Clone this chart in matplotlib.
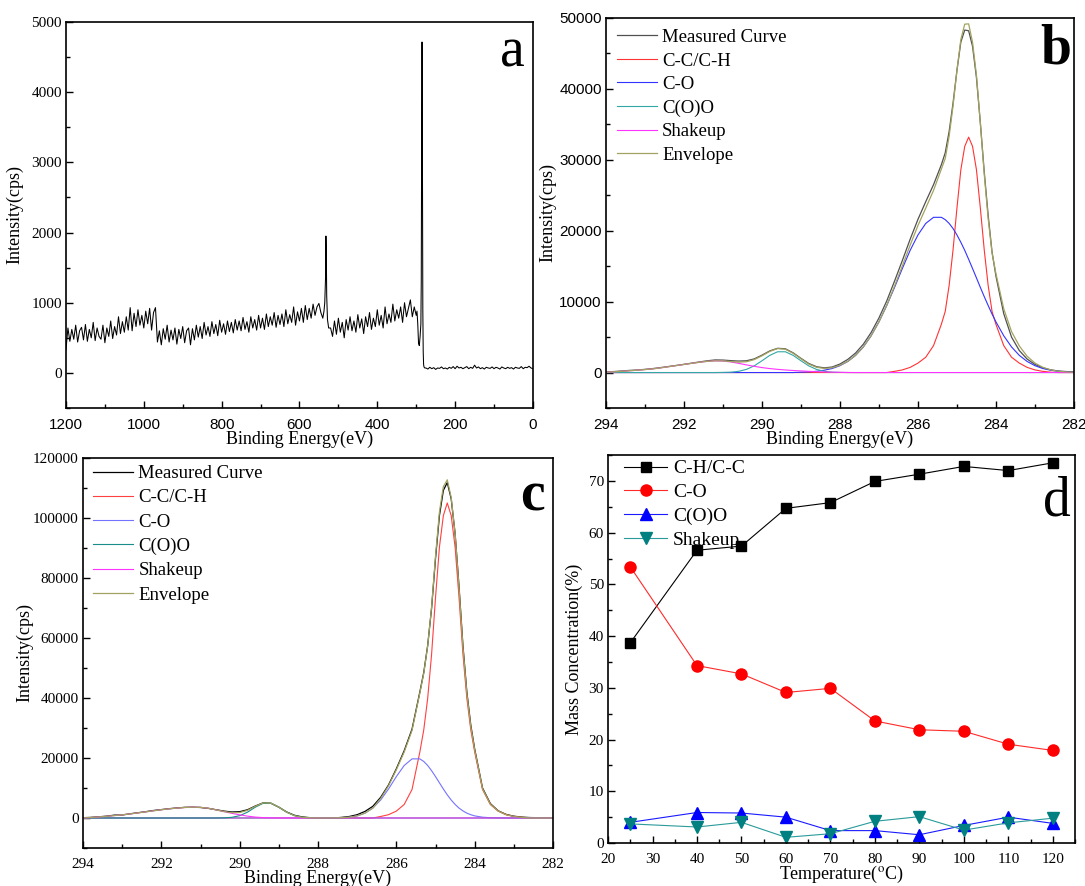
import numpy as np
import matplotlib.pyplot as plt
from matplotlib.ticker import MultipleLocator

SERIF = 'Liberation Serif'
SANS = 'Liberation Sans'
plt.rcParams['font.family'] = SERIF
plt.rcParams['mathtext.fontset'] = 'stix'

# %% data

# (a) survey spectrum, cps
be_a1 = np.arange(1200, 535, -5)
int_a1 = [330, 640, 450, 620, 480, 680, 440, 600, 650, 470,
          690, 450, 620, 500, 720, 460, 640, 520, 480, 680,
          430, 640, 520, 740, 490, 660, 540, 800, 560, 730,
          580, 800, 610, 930, 600, 850, 660, 900, 680, 820,
          640, 880, 700, 920, 610, 860, 930, 440, 600, 400,
          630, 480, 680, 440, 610, 470, 640, 410, 620, 490,
          660, 430, 600, 640, 400, 630, 470, 680, 510, 660,
          490, 720, 540, 660, 520, 730, 560, 690, 530, 750,
          580, 700, 550, 740, 590, 720, 570, 760, 610, 740,
          600, 790, 620, 730, 580, 800, 640, 760, 610, 820,
          640, 780, 620, 840, 660, 800, 680, 860, 650, 820,
          690, 840, 660, 900, 700, 830, 720, 940, 680, 870,
          740, 920, 720, 960, 760, 920, 780, 980, 820, 940,
          990, 860, 780]
be_o1s = [537, 535, 533, 532, 531, 530, 528, 525]
int_o1s = [880, 1000, 1350, 1950, 1680, 1100, 760, 640]
be_a2 = np.arange(520, 295, -5)
int_a2 = [640, 520, 740, 550, 780, 580, 720, 500, 760, 610,
          800, 600, 740, 580, 830, 640, 770, 560, 800, 660,
          860, 620, 780, 660, 900, 680, 820, 640, 940, 700,
          840, 720, 980, 740, 900, 780, 940, 720, 1000, 800,
          920, 1040, 800, 940, 820]
be_c1s = [298, 296, 294, 292, 290, 288, 287, 286, 285, 284.5, 284, 283, 282, 281, 280, 278]
int_c1s = [880, 700, 420, 390, 520, 700, 1300, 3400, 4714, 4080, 3000, 900, 300, 120, 85, 70]
be_a3 = np.arange(275, -1, -5)
int_a3 = [70, 55, 80, 60, 75, 50, 70, 65, 85, 60,
          70, 55, 80, 65, 90, 60, 95, 70, 80, 60,
          75, 90, 60, 80, 65, 110, 70, 85, 60, 75,
          55, 80, 70, 65, 85, 60, 80, 70, 55, 85,
          70, 60, 80, 65, 75, 55, 80, 70, 65, 90,
          60, 80, 75, 95, 70, 60]

# (b), (c) C1s binding energy grid, eV
be_c1 = np.concatenate([np.arange(294.0, 285.3, -0.2),
                        np.arange(285.3, 284.05, -0.1),
                        np.arange(284.0, 281.9, -0.2)])

# (b) intensities, kcps
meas_b = [0.08, 0.14, 0.22, 0.30, 0.36, 0.45, 0.56, 0.70, 0.85, 1.00,
          1.16, 1.33, 1.50, 1.66, 1.78, 1.76, 1.68, 1.62, 1.66, 1.92,
          2.45, 3.05, 3.42, 3.35, 2.78, 2.00, 1.28, 0.82, 0.66, 0.78,
          1.20, 1.85, 2.75, 4.00, 5.65, 7.70, 10.1, 12.9, 15.8, 18.8,
          21.6, 24.1, 26.5, 29.3, 31.0, 34.0, 38.0, 42.6, 46.6, 48.3,
          48.2, 46.0, 41.6, 35.2, 28.3, 22.2, 17.0, 13.6, 8.3, 5.0,
          3.1, 1.9, 1.15, 0.68, 0.38, 0.22, 0.14, 0.10]
cc_b = [0] * 37 + [0.17, 0.37, 0.73,
        1.33, 2.16, 3.80, 6.80, 8.63, 12.3, 17.3, 23.2, 28.6, 31.9,
        33.2, 31.9, 28.6, 23.2, 17.3, 12.3, 8.63, 6.80, 3.80, 2.16,
        1.33, 0.73, 0.37, 0.17, 0.05, 0, 0, 0]
co_b = [0] * 25 + [0.05, 0.09, 0.18, 0.33, 0.57,
        0.97, 1.56, 2.42, 3.61, 5.19, 7.15, 9.46, 12.01, 14.67, 17.23,
        19.40, 21.03, 21.89, 21.89, 21.56, 21.03, 20.31, 19.40, 18.37, 17.23,
        15.97, 14.67, 13.35, 12.01, 10.71, 9.46, 8.25, 7.15, 5.19, 3.61,
        2.42, 1.56, 0.97, 0.57, 0.33, 0.18, 0.09, 0.05]
coo_b = [0] * 15 + [0.02, 0.05, 0.17, 0.44, 0.94,
         1.66, 2.42, 2.93, 2.93, 2.42, 1.66, 0.94, 0.44, 0.17, 0.05,
         0.02] + [0] * 37
shake_b = [0.05, 0.10, 0.17, 0.25, 0.33, 0.42, 0.52, 0.66, 0.82, 0.98,
           1.14, 1.30, 1.45, 1.58, 1.65, 1.62, 1.50, 1.30, 1.08, 0.88,
           0.70, 0.56, 0.45, 0.36, 0.29, 0.23, 0.17, 0.12, 0.08, 0.05,
           0.03, 0.01] + [0] * 36
env_b = [0.05, 0.10, 0.17, 0.25, 0.33, 0.42, 0.52, 0.66, 0.82, 0.98,
         1.14, 1.30, 1.45, 1.58, 1.65, 1.64, 1.55, 1.47, 1.52, 1.82,
         2.36, 2.98, 3.38, 3.29, 2.71, 1.94, 1.20, 0.74, 0.58, 0.67,
         1.02, 1.57, 2.42, 3.61, 5.19, 7.15, 9.46, 12.18, 15.04, 17.96,
         20.73, 23.19, 25.69, 28.69, 30.19, 33.33, 37.61, 42.60, 46.97, 49.13,
         49.17, 46.57, 41.95, 35.21, 28.01, 21.76, 16.88, 13.95, 8.99, 5.77,
         3.75, 2.29, 1.34, 0.74, 0.38, 0.18, 0.09, 0.05]

# (c) intensities, kcps
meas_c = [0.1, 0.2, 0.4, 0.6, 0.95, 1.0, 1.4, 1.75, 2.1, 2.5,
          2.8, 3.1, 3.35, 3.55, 3.6, 3.5, 3.2, 2.75, 2.3, 2.0,
          2.1, 2.75, 4.0, 5.05, 4.9, 3.6, 2.0, 0.9, 0.35, 0.1,
          0.0, -0.1, 0.0, 0.2, 0.5, 1.1, 2.2, 3.9, 6.9, 11.0,
          16.4, 22.4, 29.6, 42.0, 48.5, 57.5, 70.0, 86.5, 100.8, 109.2,
          111.8, 106.4, 94.8, 77.2, 57.5, 42.0, 31.0, 23.0, 10.0, 4.8,
          2.4, 1.2, 0.6, 0.3, 0.15, 0.1, 0.05, 0.05]
cc_c = [0] * 38 + [0.5, 1.1,
        2.3, 4.5, 9.5, 22.0, 29.4, 39.9, 54.6, 73.5, 90.3, 100.8,
        105.0, 100.8, 90.3, 73.5, 54.6, 39.9, 29.4, 22.0, 9.5, 4.5,
        2.3, 1.1, 0.5, 0.2, 0, 0, 0, 0]
co_c = [0] * 32 + [0.03, 0.09, 0.27, 0.70, 1.62, 3.30, 6.00, 9.66,
        13.8, 17.5, 19.7, 19.7, 18.84, 17.5, 15.76, 13.8, 11.72, 9.66,
        7.72, 6.00, 4.52, 3.30, 2.36, 1.62, 1.09, 0.70, 0.27, 0.09,
        0.03, 0, 0, 0, 0, 0, 0, 0]
coo_c = [0] * 18 + [0.05, 0.22,
         0.77, 1.94, 3.61, 4.91, 4.91, 3.61, 1.94, 0.77, 0.22, 0.05] + [0] * 38
shake_c = [0.0, 0.15, 0.35, 0.55, 0.80, 1.05, 1.35, 1.70, 2.05, 2.40,
           2.75, 3.05, 3.30, 3.50, 3.60, 3.55, 3.25, 2.70, 2.10, 1.55,
           1.05, 0.62, 0.30, 0.12, 0.04, 0.01] + [0] * 42
env_c = [0.0, 0.15, 0.35, 0.55, 0.80, 1.05, 1.35, 1.70, 2.05, 2.40,
         2.75, 3.05, 3.30, 3.50, 3.60, 3.55, 3.25, 2.70, 2.15, 1.77,
         1.82, 2.56, 3.91, 5.03, 4.95, 3.62, 1.94, 0.77, 0.22, 0.05,
         0.0, 0.0, 0.03, 0.09, 0.27, 0.70, 1.62, 3.30, 6.50, 10.76,
         16.10, 22.00, 29.20, 41.70, 48.24, 57.40, 70.36, 87.30, 102.02, 110.46,
         112.72, 106.80, 94.82, 76.80, 56.96, 41.52, 30.49, 22.70, 9.77, 4.59,
         2.33, 1.10, 0.50, 0.20, 0, 0, 0, 0]

# (d) mass concentration vs temperature
temp = [25, 40, 50, 60, 70, 80, 90, 100, 110, 120]
ch_cc = [38.7, 56.6, 57.4, 64.7, 65.8, 69.9, 71.3, 72.8, 72.0, 73.5]
c_o = [53.4, 34.3, 32.7, 29.1, 29.9, 23.6, 21.9, 21.6, 19.1, 17.9]
c_oo = [4.0, 5.9, 5.8, 5.0, 2.4, 2.4, 1.6, 3.4, 5.0, 3.8]
shakeup = [3.7, 3.1, 4.0, 1.1, 1.8, 4.2, 5.1, 2.5, 3.9, 4.8]

comp_labels = ['Measured Curve', 'C-C/C-H', 'C-O', 'C(O)O', 'Shakeup', 'Envelope']

# %% figure

fig = plt.figure(figsize=(10.85, 8.86), dpi=100)


def style(ax, xfont, yfont):
    for s in ax.spines.values():
        s.set_linewidth(1.2)
    ax.tick_params(which='both', direction='in', top=False, right=False)
    ax.tick_params(which='major', length=5, width=1)
    ax.tick_params(which='minor', length=3, width=1)
    ax.tick_params(axis='x', labelsize=11, labelfontfamily=xfont, pad=7)
    ax.tick_params(axis='y', labelsize=11, labelfontfamily=yfont, pad=3)


# (a)
ax = fig.add_axes([0.0608, 0.5395, 0.4304, 0.4357])
be_a = np.concatenate([be_a1, be_o1s, be_a2, be_c1s, be_a3])
int_a = np.concatenate([int_a1, int_o1s, int_a2, int_c1s, int_a3])
ax.plot(be_a, int_a, color='black', lw=0.75)
ax.set_xlim(1200, 0)
ax.set_ylim(-500, 5000)
ax.xaxis.set_major_locator(MultipleLocator(200))
ax.xaxis.set_minor_locator(MultipleLocator(100))
ax.yaxis.set_major_locator(MultipleLocator(1000))
ax.yaxis.set_minor_locator(MultipleLocator(500))
style(ax, SANS, SERIF)
ax.set_xlabel('Binding Energy(eV)', fontsize=13, labelpad=-1)
ax.set_ylabel('Intensity(cps)', fontsize=13, labelpad=6)
ax.text(0.957, 0.92, 'a', transform=ax.transAxes, fontsize=40,
        ha='center', va='center')


def fit_panel(ax, meas, cc, co, coo, shake, env, colors, lg, spacing):
    k = 1000.0
    ax.plot(be_c1, np.array(meas) * k, color=colors[0], lw=0.9, label=comp_labels[0])
    ax.plot(be_c1, np.array(cc) * k, color=colors[1], lw=0.8, label=comp_labels[1])
    ax.plot(be_c1, np.array(co) * k, color=colors[2], lw=0.8, label=comp_labels[2])
    ax.plot(be_c1, np.array(coo) * k, color=colors[3], lw=0.8, label=comp_labels[3])
    ax.plot(be_c1, np.array(shake) * k, color=colors[4], lw=0.8, label=comp_labels[4])
    ax.plot(be_c1, np.array(env) * k, color=colors[5], lw=0.9, label=comp_labels[5])
    ax.set_xlim(294, 282)
    ax.xaxis.set_major_locator(MultipleLocator(2))
    ax.xaxis.set_minor_locator(MultipleLocator(1))
    ax.legend(loc='upper left', bbox_to_anchor=lg, frameon=False, fontsize=13.5,
              handlelength=2.1, handletextpad=0.3, labelspacing=spacing,
              borderpad=0, borderaxespad=0)


# (b)
ax = fig.add_axes([0.5585, 0.5395, 0.4313, 0.4402])
fit_panel(ax, meas_b, cc_b, co_b, coo_b, shake_b, env_b,
          ['#505050', '#ff3333', '#3333ff', '#33a6a6', '#ff33ff', '#a3a360'],
          (0.024, 0.972), 0.34)
ax.set_ylim(-5000, 50000)
ax.yaxis.set_major_locator(MultipleLocator(10000))
ax.yaxis.set_minor_locator(MultipleLocator(5000))
style(ax, SANS, SANS)
ax.set_xlabel('Binding Energy(eV)', fontsize=13, labelpad=-1)
ax.set_ylabel('Intensity(cps)', fontsize=13, labelpad=2)
ax.text(0.962, 0.918, 'b', transform=ax.transAxes, fontsize=40,
        fontweight='bold', ha='center', va='center')

# (c)
ax = fig.add_axes([0.0765, 0.0429, 0.4332, 0.4402])
fit_panel(ax, meas_c, cc_c, co_c, coo_c, shake_c, env_c,
          ['#000000', '#ff4040', '#7373ff', '#1a8c8c', '#ff33ff', '#a3a360'],
          (0.022, 0.982), 0.38)
ax.set_ylim(-10000, 120000)
ax.yaxis.set_major_locator(MultipleLocator(20000))
ax.yaxis.set_minor_locator(MultipleLocator(10000))
style(ax, SERIF, SERIF)
ax.set_xlabel('Binding Energy(eV)', fontsize=13, labelpad=-1)
ax.set_ylabel('Intensity(cps)', fontsize=13, labelpad=0)
ax.text(0.957, 0.90, 'c', transform=ax.transAxes, fontsize=40,
        fontweight='bold', ha='center', va='center')

# (d)
ax = fig.add_axes([0.5604, 0.0485, 0.4304, 0.4379])
ax.plot(temp, ch_cc, color='black', lw=0.8, marker='s', ms=7, label='C-H/C-C')
ax.plot(temp, c_o, color='#ff2a2a', lw=0.8, marker='o', ms=8,
        mfc='red', mec='red', label='C-O')
ax.plot(temp, c_oo, color='#1a1aff', lw=0.8, marker='^', ms=8,
        mfc='blue', mec='blue', label='C(O)O')
ax.plot(temp, shakeup, color='#2a9a9a', lw=0.8, marker='v', ms=8,
        mfc='#008080', mec='#008080', label='Shakeup')
ax.set_xlim(20, 125)
ax.set_ylim(0, 75)
ax.xaxis.set_major_locator(MultipleLocator(10))
ax.xaxis.set_minor_locator(MultipleLocator(5))
ax.yaxis.set_major_locator(MultipleLocator(10))
ax.yaxis.set_minor_locator(MultipleLocator(5))
style(ax, SERIF, SERIF)
ax.set_xlabel(r'Temperature($^{\rm o}$C)', fontsize=13, labelpad=-1)
ax.set_ylabel('Mass Concentration(%)', fontsize=13, labelpad=4)
ax.legend(loc='upper left', bbox_to_anchor=(0.035, 0.988), frameon=False,
          fontsize=14, handlelength=2.2, handletextpad=0.3, labelspacing=0.32,
          borderpad=0, borderaxespad=0)
ax.text(0.961, 0.88, 'd', transform=ax.transAxes, fontsize=40,
        ha='center', va='center')

plt.savefig('out.png', dpi=100)
